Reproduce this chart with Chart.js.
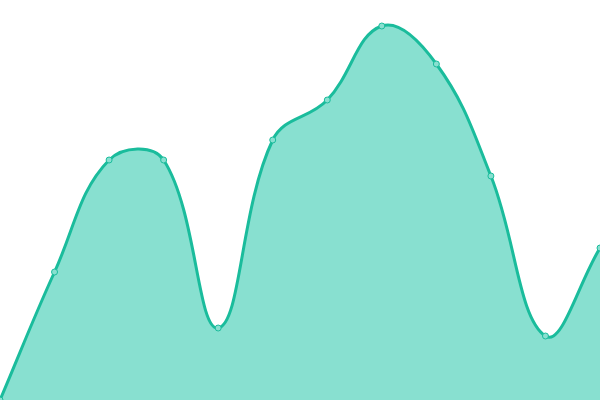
<!DOCTYPE html>
<html>
<head>
<meta charset="utf-8">
<script src="https://cdn.jsdelivr.net/npm/chart.js@4"></script>
<style>
  html, body { margin: 0; padding: 0; background: #fff; }
  #wrap { width: 600px; height: 400px; }
</style>
</head>
<body>
<div id="wrap"><canvas id="areaChart"></canvas></div>
<script>
// categories along the x axis (axis is hidden in the picture)
const labels = ['1', '2', '3', '4', '5', '6', '7', '8', '9', '10', '11', '12'];

// series values (y axis 0..100)
const values = [0, 32, 60, 60, 18, 65, 75, 93.5, 84, 56, 16, 38];

// y axis range
const yMin = 0;
const yMax = 100;

document.addEventListener('DOMContentLoaded', () => {
    const ctx = document.getElementById('areaChart').getContext('2d');
    new Chart(ctx, {
        type: 'line',
        data: {
            labels: labels,
            datasets: [{
                label: 'Series',
                data: values,
                fill: true,
                backgroundColor: 'rgba(136, 224, 208, 1)',
                borderColor: '#1abc9c',
                borderWidth: 3,
                tension: 0.4,
                pointRadius: 3,
                pointBorderWidth: 1,
                pointBackgroundColor: 'rgba(136, 224, 208, 1)',
                pointBorderColor: '#1abc9c'
            }]
        },
        options: {
            responsive: true,
            maintainAspectRatio: false,
            animation: false,
            layout: { padding: 0, autoPadding: false },
            plugins: {
                legend: { display: false },
                tooltip: { enabled: false }
            },
            scales: {
                x: { display: false },
                y: { display: false, min: yMin, max: yMax }
            }
        }
    });
});
</script>
</body>
</html>
